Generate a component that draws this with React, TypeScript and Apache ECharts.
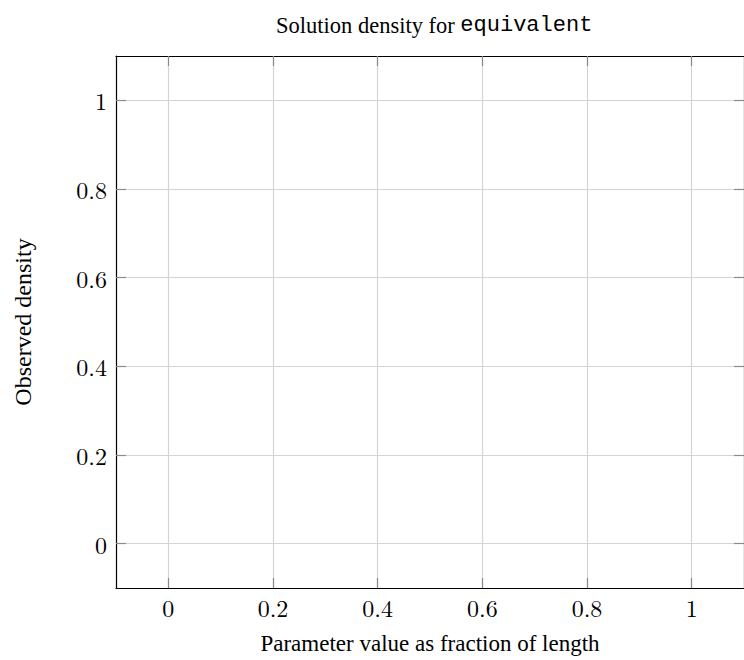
import React, { useEffect, useRef } from "react";
import * as echarts from "echarts";

const xTicks = [0, 0.2, 0.4, 0.6, 0.8, 1];
const yTicks = [0, 0.2, 0.4, 0.6, 0.8, 1];
const xRange = [-0.1, 1.1];
const yRange = [-0.1, 1.1];
const seriesData: [number, number][] = [];

const TICKFONT = "'Latin Modern Roman', 'Liberation Serif', 'DejaVu Serif', serif";
const SERIF = "'Liberation Serif', 'Times New Roman', serif";
const MONO = "'Liberation Mono', 'DejaVu Sans Mono', monospace";
const fmt = (v: number) => String(Math.round(v * 10) / 10);

export default function App() {
  const ref = useRef<HTMLDivElement>(null);
  useEffect(() => {
    if (!ref.current) return;
    const chart = echarts.init(ref.current, null, { renderer: "svg" });
    const axisLine = { show: true, onZero: false, lineStyle: { color: "#000", width: 1.2 } };
    const tick = (vals: number[]) => ({
      show: true,
      inside: true,
      length: 10,
      customValues: vals,
      lineStyle: { color: "#8a8a8a", width: 1.2 },
    });
    const split = { show: true, lineStyle: { color: "#d4d4d4", width: 1.2 } };
    chart.setOption({
      animation: false,
      backgroundColor: "#fff",
      title: {
        text: "{a|Solution density for }{b|equivalent}",
        left: 271,
        top: 9,
        textStyle: {
          fontWeight: "normal",
          rich: {
            a: { fontFamily: SERIF, fontSize: 22.5, fontWeight: "normal", color: "#000" },
            b: { fontFamily: MONO, fontSize: 22, fontWeight: "normal", color: "#000" },
          },
        },
      },
      grid: { left: 116, top: 56, width: 637, height: 532, containLabel: false },
      xAxis: [
        {
          type: "value",
          position: "bottom",
          min: xRange[0],
          max: xRange[1],
          axisLine,
          axisTick: tick(xTicks),
          splitLine: split,
          axisLabel: {
            customValues: xTicks,
            formatter: fmt,
            fontFamily: TICKFONT,
            fontSize: 24,
            color: "#000",
            margin: 7,
          },
          name: "Parameter value as fraction of length",
          nameLocation: "middle",
          nameGap: 44,
          nameTextStyle: { fontFamily: SERIF, fontSize: 23, color: "#000" },
        },
        {
          type: "value",
          position: "top",
          min: xRange[0],
          max: xRange[1],
          axisLine,
          axisTick: tick(xTicks),
          splitLine: { show: false },
          axisLabel: { show: false, customValues: xTicks },
        },
      ],
      yAxis: [
        {
          type: "value",
          position: "left",
          min: yRange[0],
          max: yRange[1],
          axisLine,
          axisTick: tick(yTicks),
          splitLine: split,
          axisLabel: {
            customValues: yTicks,
            formatter: fmt,
            fontFamily: TICKFONT,
            fontSize: 24,
            color: "#000",
            margin: 9,
          },
          name: "Observed density",
          nameLocation: "middle",
          nameGap: 81,
          nameTextStyle: { fontFamily: SERIF, fontSize: 24, color: "#000" },
        },
        {
          type: "value",
          position: "right",
          min: yRange[0],
          max: yRange[1],
          axisLine,
          axisTick: tick(yTicks),
          splitLine: { show: false },
          axisLabel: { show: false, customValues: yTicks },
        },
      ],
      series: [
        {
          type: "line",
          data: seriesData,
          xAxisIndex: 0,
          yAxisIndex: 0,
        },
      ],
    });
    return () => chart.dispose();
  }, []);
  return (
    <div
      ref={ref}
      style={{ position: "fixed", left: 0, top: 0, width: 744, height: 660 }}
    />
  );
}
